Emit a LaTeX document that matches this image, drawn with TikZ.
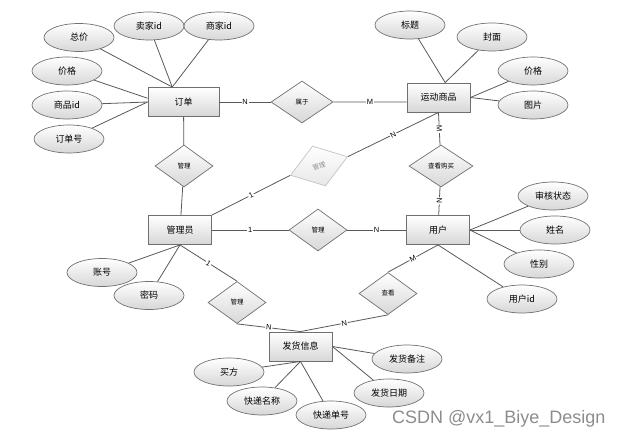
\documentclass[tikz,border=0pt]{standalone}
\usepackage{fontspec}
\setmainfont{Liberation Sans}
\newfontfamily\cjk{Noto Sans CJK SC}
\usetikzlibrary{shapes.geometric}
\definecolor{erLine}{RGB}{89,89,89}
\definecolor{erEdge}{RGB}{112,112,112}
\definecolor{erFill}{RGB}{215,215,215}
\definecolor{erFaint}{RGB}{195,195,195}
\definecolor{erMark}{RGB}{140,140,140}

\begin{document}
\begin{tikzpicture}[x=1pt,y=-1pt,
      en/.style={rectangle,draw=erEdge,line width=0.9pt,top color=white,bottom color=erFill,
                 minimum width=63pt,minimum height=29pt,inner sep=0pt,font=\cjk\fontsize{9}{10}\selectfont},
      attr/.style={ellipse,draw=erEdge,line width=0.7pt,top color=white,bottom color=erFill,
                 minimum width=70pt,minimum height=28pt,inner sep=0pt,font=\cjk\fontsize{9}{10}\selectfont},
      rel/.style={diamond,draw=erEdge,line width=0.7pt,top color=white,bottom color=erFill,
                 minimum width=58pt,minimum height=42pt,inner sep=0pt,font=\cjk\fontsize{6.5}{7}\selectfont},
      ln/.style={draw=erLine,line width=0.8pt},
      card/.style={midway,sloped,fill=white,inner sep=0.8pt,font=\fontsize{7.5}{8}\selectfont}]

    \useasboundingbox (0,0) rectangle (622,438);

    \node[en,minimum width=71pt] (order) at (183.5,102) {订单};
    \node[en] (goods) at (438.5,97.5) {运动商品};
    \node[en] (admin) at (180,230) {管理员};
    \node[en] (user) at (438,230) {用户};
    \node[en] (ship) at (300.5,346.5) {发货信息};

    \node[rel,minimum width=62pt] (rBelong) at (302,102) {属于};
    \node[rel] (rMgOrder) at (184,166) {管理};
    \node[rel,minimum width=60pt,rotate=18,draw=erFaint,text=erMark,bottom color=erFill!60] (rMgGoods) at (319,166) {管理};
    \node[rel,minimum width=64pt] (rBuy) at (441,166) {查看购买};
    \node[rel] (rMgUser) at (318,230) {管理};
    \node[rel] (rMgShip) at (237,302.5) {管理};
    \node[rel] (rView) at (388,293.5) {查看};

    \node[attr] (aTotal) at (79,37.5) {总价};
    \node[attr] (aSeller) at (149,26) {卖家id};
    \node[attr] (aShop) at (219,26) {商家id};
    \node[attr] (aPrice) at (67,71) {价格};
    \node[attr] (aGoodsId) at (67,105) {商品id};
    \node[attr] (aOrderNo) at (69,139) {订单号};
    \node[attr] (aTitle) at (410,25) {标题};
    \node[attr] (aCover) at (492,37) {封面};
    \node[attr] (aGPrice) at (533,71) {价格};
    \node[attr] (aPic) at (533,105) {图片};
    \node[attr] (aAccount) at (102,272.5) {账号};
    \node[attr] (aPwd) at (149,295.5) {密码};
    \node[attr] (aState) at (553,196) {审核状态};
    \node[attr] (aName) at (555,230) {姓名};
    \node[attr] (aSex) at (539,264) {性别};
    \node[attr] (aUserId) at (522,299) {用户id};
    \node[attr] (aBuyer) at (229,372) {买方};
    \node[attr] (aExpName) at (262,401) {快递名称};
    \node[attr] (aExpNo) at (331,415) {快递单号};
    \node[attr] (aDate) at (389,393) {发货日期};
    \node[attr] (aNote) at (407,359) {发货备注};

    \draw[ln] (order) -- node[card]{N} (rBelong);
    \draw[ln] (rBelong) -- node[card]{M} (goods.188);
    \draw[ln] (order) -- (rMgOrder);
    \draw[ln] (rMgOrder) -- (admin);
    \draw[ln] (admin.north east) -- node[card]{1} (rMgGoods.west);
    \draw[ln] (rMgGoods.east) -- node[card]{N} (goods.south);
    \draw[ln] (goods.south) -- node[card]{M} (rBuy);
    \draw[ln] (rBuy) -- node[card]{N} (user);
    \draw[ln] (admin) -- node[card]{1} (rMgUser);
    \draw[ln] (rMgUser) -- node[card]{N} (user);
    \draw[ln] (admin.south) -- node[card]{1} (rMgShip.north);
    \draw[ln] (rMgShip.south) -- node[card]{N} (ship.north);
    \draw[ln] (user.south) -- node[card]{M} (rView.north);
    \draw[ln] (rView.south) -- node[card]{N} (ship.north);

    \draw[ln] (aTotal) -- (order.127);
    \draw[ln] (aSeller) -- (order.127);
    \draw[ln] (aShop) -- (order.127);
    \draw[ln] (aPrice) -- (order.174);
    \draw[ln] (aGoodsId) -- (order.west);
    \draw[ln] (aOrderNo) -- (order.west);
    \draw[ln] (aTitle) -- (goods.66);
    \draw[ln] (aCover) -- (goods.66);
    \draw[ln] (aGPrice) -- (goods.east);
    \draw[ln] (aPic) -- (goods.east);
    \draw[ln] (aAccount) -- (admin.south);
    \draw[ln] (aPwd) -- (admin.south);
    \draw[ln] (aState) -- (user.east);
    \draw[ln] (aName) -- (user.east);
    \draw[ln] (aSex) -- (user.east);
    \draw[ln] (aUserId) -- (user.south);
    \draw[ln] (aBuyer) -- (ship.south);
    \draw[ln] (aExpName) -- (ship.south);
    \draw[ln] (aExpNo) -- (ship.south);
    \draw[ln] (aDate) -- (ship.east);
    \draw[ln] (aNote) -- (ship.east);

    \node[text=erMark,font=\fontsize{18}{18}\selectfont,anchor=base west,inner sep=0pt] (mark) at (392,424) {CSDN @vx1\_Biye\_Design};
  \end{tikzpicture}
\end{document}
